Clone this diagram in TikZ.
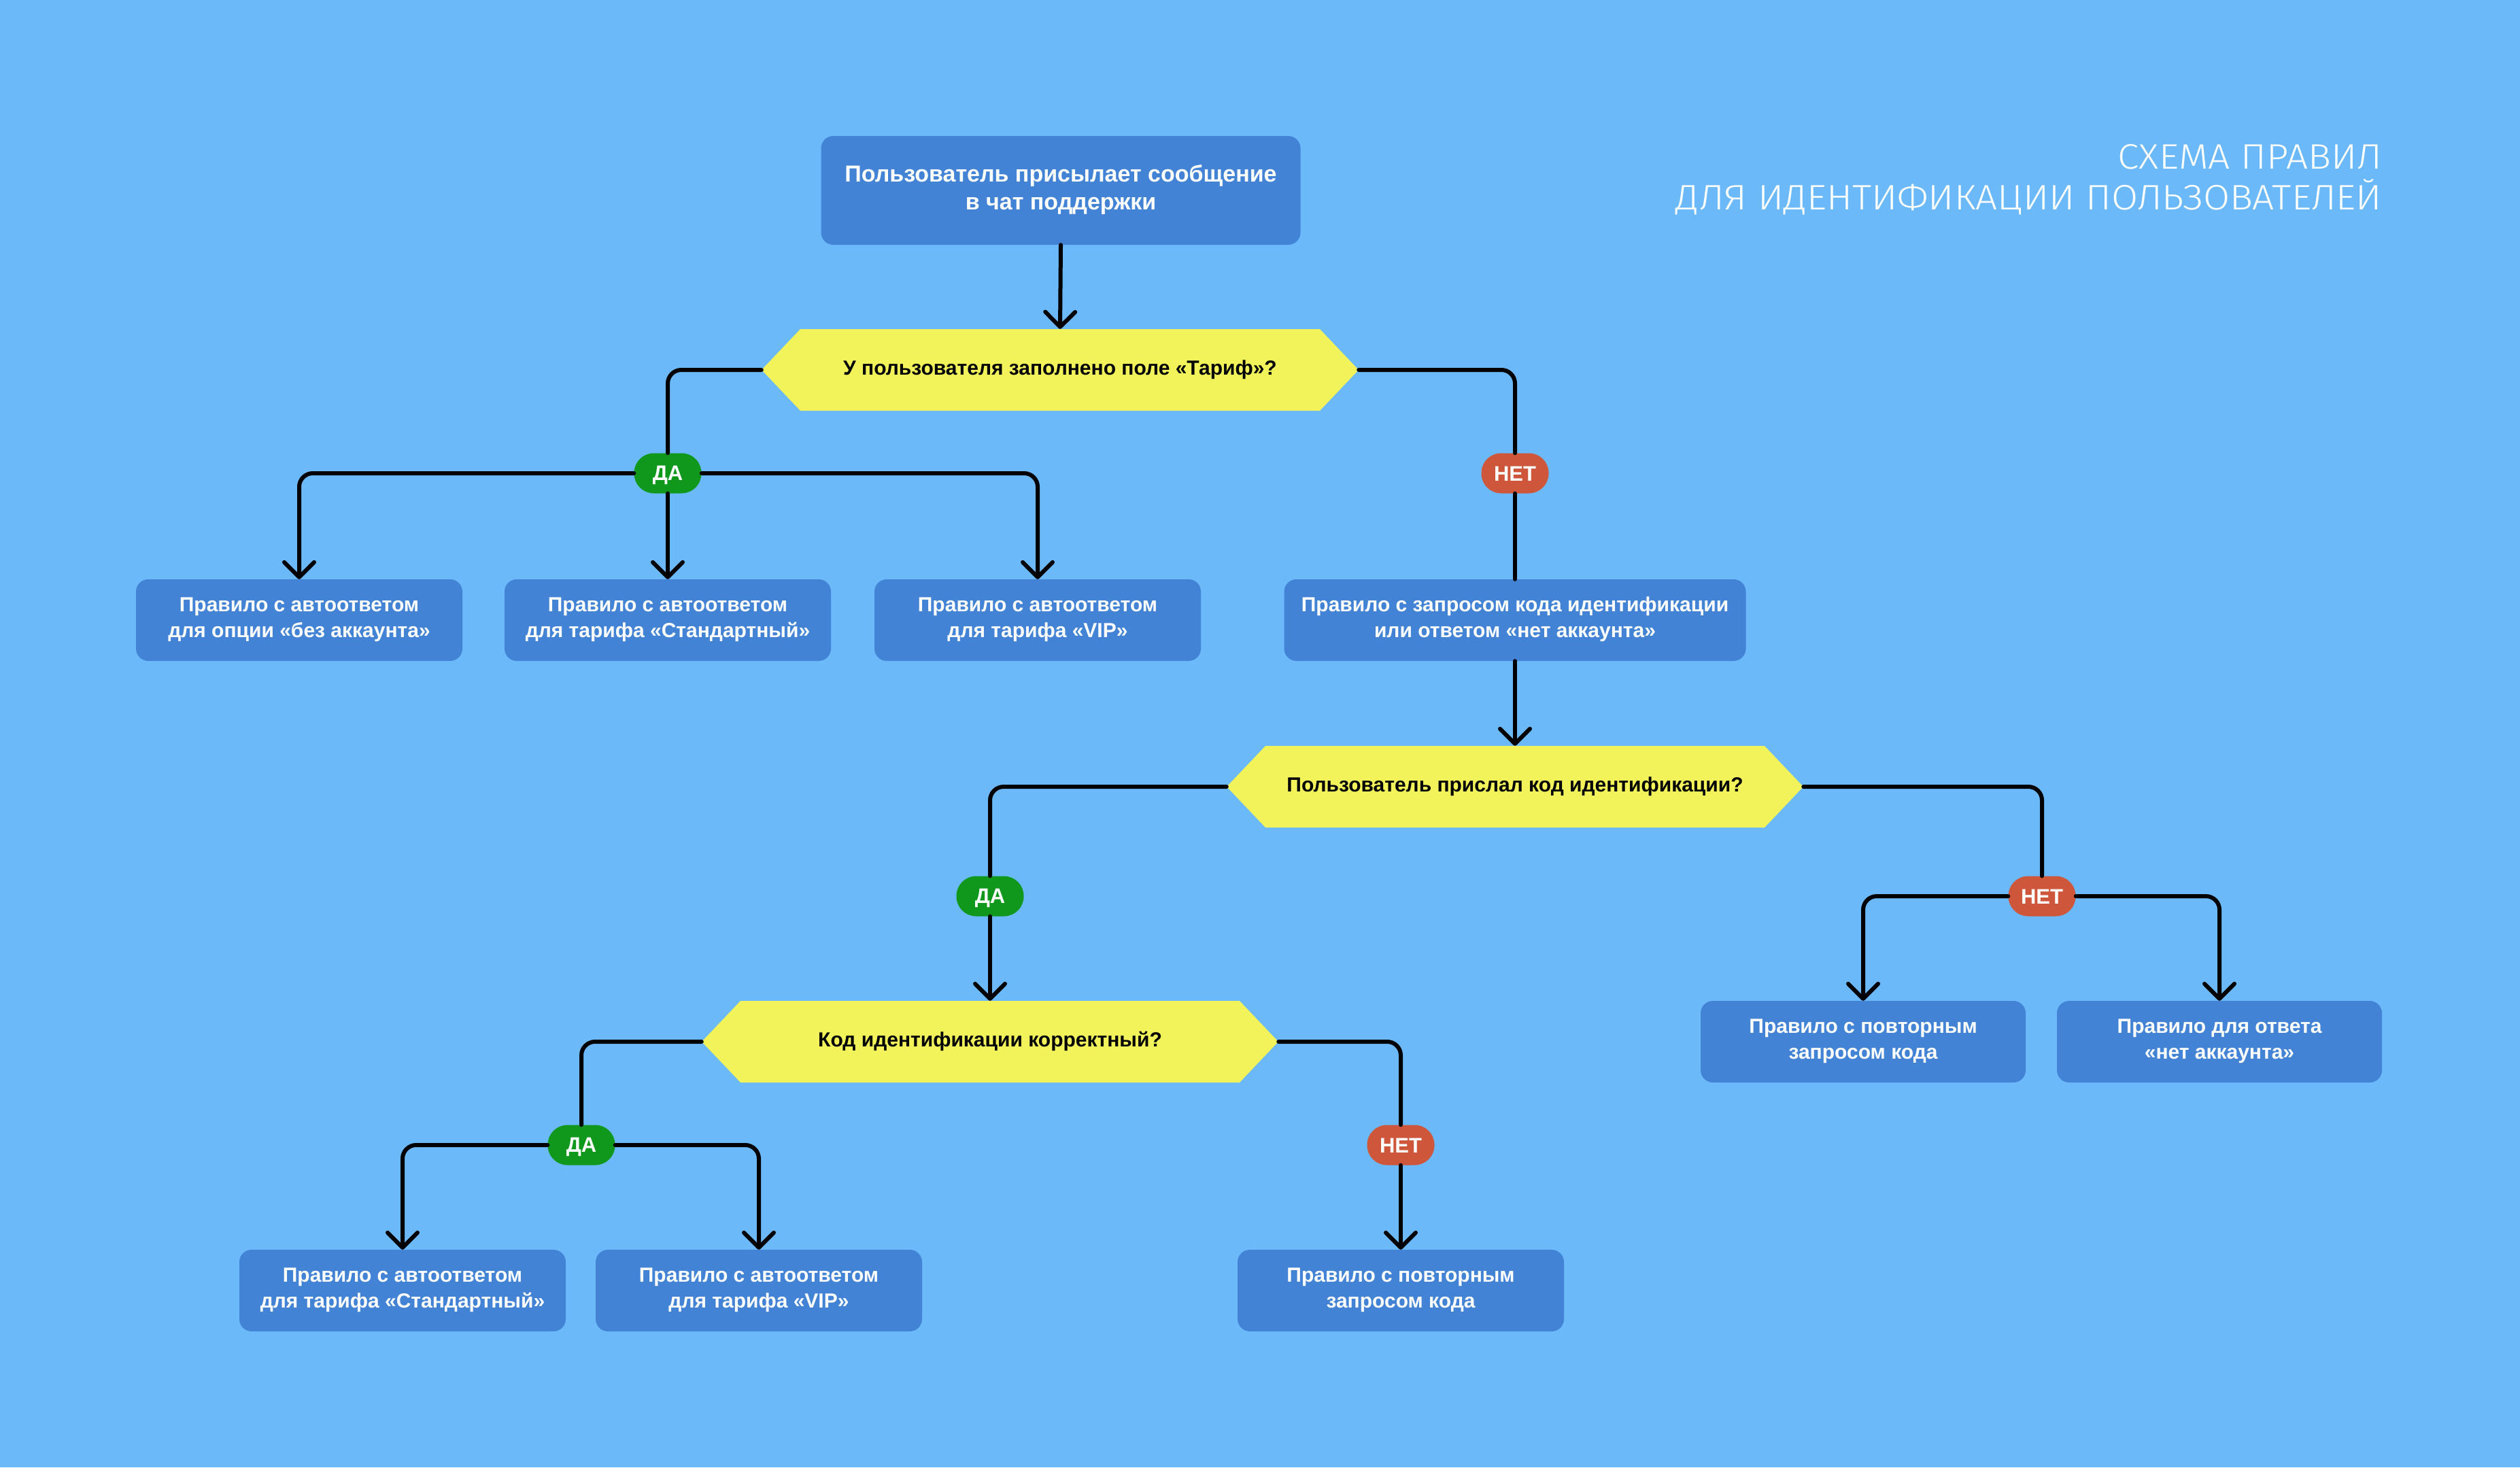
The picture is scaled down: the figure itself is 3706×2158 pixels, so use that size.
\documentclass[tikz,border=0pt]{standalone}
\usepackage{fontspec}
\setmainfont{Liberation Sans}
\IfFontExistsTF{Fira Sans Light}{\newfontfamily\titlefont[FakeStretch=1.09]{Fira Sans Light}}{\newfontfamily\titlefont{Liberation Sans}}
\usetikzlibrary{arrows.meta}
\definecolor{bgc}{HTML}{6CB9F9}
\definecolor{boxc}{HTML}{4283D6}
\definecolor{yelc}{HTML}{F2F25A}
\definecolor{greenc}{HTML}{10981C}
\definecolor{redc}{HTML}{CD563B}
\tikzset{
  rulebox/.style={fill=boxc, rounded corners=18pt, text=white, align=center,
    font=\bfseries\fontsize{30}{38}\selectfont, minimum width=#1, minimum height=120pt, inner sep=0pt,
    execute at begin node={\rule{0pt}{34pt}}, execute at end node={\rule[-8pt]{0pt}{0pt}}},
  hexnode/.style={minimum width=#1, minimum height=120pt, inner sep=0pt,
    font=\bfseries\fontsize{30}{38}\selectfont, text=black,
    execute at begin node={\rule[-8pt]{0pt}{30pt}},
    path picture={\fill[yelc] (path picture bounding box.west)
      -- ([xshift=57pt]path picture bounding box.north west)
      -- ([xshift=-57pt]path picture bounding box.north east)
      -- (path picture bounding box.east)
      -- ([xshift=-57pt]path picture bounding box.south east)
      -- ([xshift=57pt]path picture bounding box.south west) -- cycle;}},
  lab/.style={rounded corners=29pt, minimum width=99pt, minimum height=59pt, inner sep=0pt,
    text=white, font=\bfseries\fontsize{31}{31}\selectfont,
    execute at begin node={\rule[-6pt]{0pt}{34pt}}},
  yes/.style={lab, fill=greenc},
  no/.style={lab, fill=redc},
  conn/.style={line width=6pt, rounded corners=20pt, line cap=round, draw=black},
  arr/.style={conn, -{Straight Barb[length=22pt,width=44pt,line width=6pt,round]}},
  titletext/.style={text=white, inner sep=0pt, anchor=base east, font=\titlefont\fontsize{52}{60}\selectfont}
}
\begin{document}
\begin{tikzpicture}[x=1pt,y=-1pt]
\fill[bgc] (0,0) rectangle (3706,2158);
\useasboundingbox (0,0) rectangle (3706,2158);

\node[titletext] (t1) at (3503,248) {СХЕМА ПРАВИЛ};
\node[titletext] (t2) at (3503,308) {ДЛЯ ИДЕНТИФИКАЦИИ ПОЛЬЗОВАТЕЛЕЙ};

\node[rulebox=705pt, minimum height=160pt, font=\bfseries\fontsize{34}{41}\selectfont,
  execute at begin node={\rule{0pt}{38pt}}] (top) at (1560,280) {Пользователь присылает сообщение\\в чат поддержки};

\node[hexnode=878pt] (hex1) at (1559,544) {У пользователя заполнено поле «Тариф»?};
\node[yes] (da1) at (982,696) {ДА};
\node[no] (net1) at (2228,696) {НЕТ};

\node[rulebox=480pt] (b1) at (440,912) {Правило с автоответом\\для опции «без аккаунта»};
\node[rulebox=480pt] (b2) at (982,912) {Правило с автоответом\\для тарифа «Стандартный»};
\node[rulebox=480pt] (b3) at (1526,912) {Правило с автоответом\\для тарифа «VIP»};
\node[rulebox=679pt] (b4) at (2228,912) {Правило с запросом кода идентификации\\или ответом «нет аккаунта»};

\node[hexnode=848pt] (hex2) at (2228,1157) {Пользователь прислал код идентификации?};
\node[yes] (da2) at (1456,1318) {ДА};
\node[no] (net2) at (3003,1318) {НЕТ};

\node[rulebox=478pt] (b5) at (2740,1532) {Правило с повторным\\запросом кода};
\node[rulebox=478pt] (b6) at (3264,1532) {Правило для ответа\\«нет аккаунта»};

\node[hexnode=848pt] (hex3) at (1456,1532) {Код идентификации корректный?};
\node[yes] (da3) at (855,1684) {ДА};
\node[no] (net3) at (2060,1684) {НЕТ};

\node[rulebox=480pt] (b7) at (592,1898) {Правило с автоответом\\для тарифа «Стандартный»};
\node[rulebox=480pt] (b8) at (1116,1898) {Правило с автоответом\\для тарифа «VIP»};
\node[rulebox=480pt] (b9) at (2060,1898) {Правило с повторным\\запросом кода};

\draw[arr] (top.south) -- (hex1.north);
\draw[conn] (hex1.west) -| (da1.north);
\draw[arr] (da1.west) -| (b1.north);
\draw[arr] (da1.south) -- (b2.north);
\draw[arr] (da1.east) -| (b3.north);
\draw[conn] (hex1.east) -| (net1.north);
\draw[conn] (net1.south) -- (b4.north);
\draw[arr] (b4.south) -- (hex2.north);
\draw[conn] (hex2.west) -| (da2.north);
\draw[arr] (da2.south) -- (hex3.north);
\draw[conn] (hex2.east) -| (net2.north);
\draw[arr] (net2.west) -| (b5.north);
\draw[arr] (net2.east) -| (b6.north);
\draw[conn] (hex3.west) -| (da3.north);
\draw[arr] (da3.west) -| (b7.north);
\draw[arr] (da3.east) -| (b8.north);
\draw[conn] (hex3.east) -| (net3.north);
\draw[arr] (net3.south) -- (b9.north);
\end{tikzpicture}
\end{document}
